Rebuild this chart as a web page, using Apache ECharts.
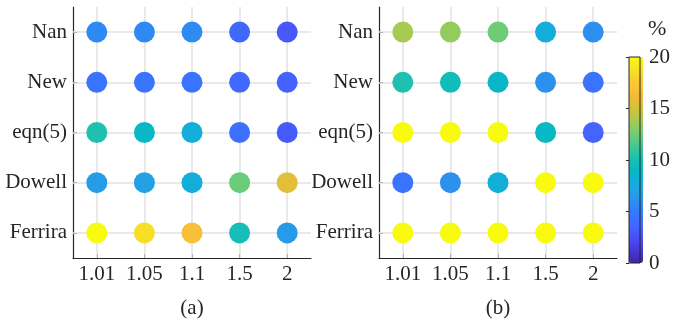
<!DOCTYPE html>
<html>
<head>
<meta charset="utf-8">
<script src="https://cdn.jsdelivr.net/npm/echarts@6/dist/echarts.min.js"></script>
<style>html,body{margin:0;padding:0;background:#fff}#c{width:673px;height:324px}</style>
</head>
<body>
<div id="c"></div>
<script>
// Categories
const xCats = ['1.01', '1.05', '1.1', '1.5', '2'];
const yCats = ['Ferrira', 'Dowell', 'eqn(5)', 'New', 'Nan']; // bottom to top
const panelNames = ['(a)', '(b)'];
const colorTicks = [0, 5, 10, 15, 20];

// Panel (a) values (%), one array per row, in xCats order
const aNan     = [5.6, 5.6, 5.7, 3.8, 3.0];
const aNew     = [4.5, 4.5, 4.5, 3.9, 3.5];
const aEqn5    = [10.2, 9.0, 7.9, 4.3, 3.1];
const aDowell  = [6.6, 6.9, 7.8, 12.3, 15.6];
const aFerrira = [20, 18.6, 16.6, 9.8, 6.5];

// Panel (b) values (%)
const bNan     = [13.8, 13.3, 12.4, 7.8, 5.9];
const bNew     = [10.2, 9.6, 8.8, 6.0, 4.5];
const bEqn5    = [20, 20, 20, 9.0, 3.6];
const bDowell  = [4.5, 6.0, 7.9, 20, 20];
const bFerrira = [20, 20, 20, 20, 20];

// parula-like colormap
const parula = ['#3e26a8','#4534ce','#4847ef','#4759fd','#416bff','#337dfc','#2c91ed','#22a3e3','#0fb0d6','#08b8c5',
  '#19bfb4','#38c59c','#5dcb81','#87cc66','#aec94d','#d3c23a','#eebb39','#fec139','#f8d22e','#f5e71d','#f9fb0e'];

const rowsA = {'Ferrira': aFerrira, 'Dowell': aDowell, 'eqn(5)': aEqn5, 'New': aNew, 'Nan': aNan};
const rowsB = {'Ferrira': bFerrira, 'Dowell': bDowell, 'eqn(5)': bEqn5, 'New': bNew, 'Nan': bNan};
function build(rows) {
  const out = [];
  yCats.forEach(y => rows[y].forEach((v, i) => out.push([xCats[i], y, v])));
  return out;
}

const FONT = "'Liberation Serif','Times New Roman',serif";
const TXT = '#262626';
const GRIDC = '#e2e2e2';

function xAxisFor(gi) {
  return {
    type: 'category', data: xCats, gridIndex: gi, boundaryGap: true,
    axisLine: {show: true, lineStyle: {color: TXT, width: 1.2}},
    axisTick: {show: true, inside: true, alignWithLabel: true, length: 4, lineStyle: {color: TXT}},
    axisLabel: {color: TXT, fontFamily: FONT, fontSize: 21, margin: 6, interval: 0, hideOverlap: false},
    splitLine: {show: false},
    name: panelNames[gi], nameLocation: 'middle', nameGap: 40,
    nameTextStyle: {color: TXT, fontFamily: FONT, fontSize: 21}
  };
}
function yAxisFor(gi) {
  return {
    type: 'category', data: yCats, gridIndex: gi, boundaryGap: true,
    axisLine: {show: true, lineStyle: {color: TXT, width: 1.2}},
    axisTick: {show: true, inside: true, alignWithLabel: true, length: 4, lineStyle: {color: TXT}},
    axisLabel: {color: TXT, fontFamily: FONT, fontSize: 21, margin: 6, interval: 0},
    splitLine: {show: false}
  };
}
function gridLines(gi) {
  return {
    type: 'line', xAxisIndex: gi, yAxisIndex: gi, data: [], z: 1, silent: true,
    markLine: {
      z: 1,
      silent: true, symbol: 'none', animation: false,
      label: {show: false},
      lineStyle: {color: GRIDC, width: 1.5, type: 'solid'},
      emphasis: {disabled: true},
      data: xCats.map(c => ({xAxis: c})).concat(yCats.map(c => ({yAxis: c})))
    }
  };
}

const chart = echarts.init(document.getElementById('c'), null, {renderer: 'canvas'});
chart.setOption({
  animation: false,
  backgroundColor: '#fff',
  title: {text: '%', left: 643, top: 13, textStyle: {color: TXT, fontFamily: FONT, fontSize: 22, fontWeight: 'normal'}},
  grid: [
    {left: 73, top: 7, width: 238, height: 255},
    {left: 379, top: 7, width: 238, height: 255},
    {left: 629, top: 57, width: 14, height: 206, show: true, borderColor: TXT, borderWidth: 1, backgroundColor: 'transparent', z: 10}
  ],
  xAxis: [xAxisFor(0), xAxisFor(1), {type: 'value', gridIndex: 2, show: false, min: 0, max: 1}],
  yAxis: [yAxisFor(0), yAxisFor(1), {
    type: 'value', gridIndex: 2, position: 'right', min: 0, max: 20, interval: 5, z: 11,
    axisLine: {show: false},
    axisTick: {show: true, inside: true, length: 3, lineStyle: {color: TXT}},
    axisLabel: {color: TXT, fontFamily: FONT, fontSize: 21, margin: 9, customValues: colorTicks},
    splitLine: {show: false}
  }],
  visualMap: {
    type: 'continuous', min: 0, max: 20, dimension: 2, seriesIndex: [2, 3],
    show: true, calculable: false, hoverLink: false, realtime: false,
    left: 629, top: 57, itemWidth: 14, itemHeight: 206, padding: 0,
    text: null, showLabel: false,
    inRange: {color: parula}
  },
  series: [
    gridLines(0), gridLines(1),
    {type: 'scatter', xAxisIndex: 0, yAxisIndex: 0, data: build(rowsA), symbol: 'circle', symbolSize: 21, z: 6, silent: true, itemStyle: {opacity: 1}},
    {type: 'scatter', xAxisIndex: 1, yAxisIndex: 1, data: build(rowsB), symbol: 'circle', symbolSize: 21, z: 6, silent: true, itemStyle: {opacity: 1}}
  ]
});
</script>
</body>
</html>
